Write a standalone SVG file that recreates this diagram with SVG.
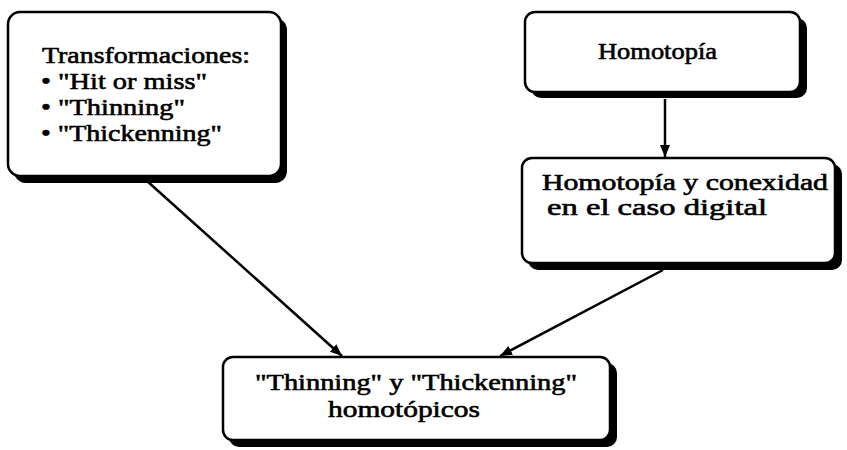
<svg xmlns="http://www.w3.org/2000/svg" width="847" height="450" viewBox="0 0 847 450">
<style>
.sh{fill:#000}
.bx{fill:#fff;stroke:#000;stroke-width:2.5}
.t{font-family:"Liberation Serif","Times New Roman",serif;font-size:23px;fill:#000;stroke:#000;stroke-width:0.6}
.c{stroke:#000;stroke-width:2.5;fill:none}
</style>
<defs>
<marker id="ah" viewBox="0 0 12 10" refX="12" refY="5" markerWidth="12" markerHeight="10" markerUnits="userSpaceOnUse" orient="auto">
<path d="M0,0 L12,5 L0,10 z" fill="#000"/>
</marker>
</defs>
<rect width="847" height="450" fill="#fff"/>
<g id="connectors">
<line class="c" x1="147" y1="181" x2="342" y2="356" marker-end="url(#ah)"/>
<line class="c" x1="663" y1="270" x2="500" y2="356" marker-end="url(#ah)"/>
<line class="c" x1="665" y1="99" x2="665" y2="157" stroke-width="1.8" marker-end="url(#ah)"/>
</g>
<g id="transformaciones">
<rect class="sh" x="14" y="18" width="273" height="165" rx="12"/>
<rect class="bx" x="8" y="12" width="273" height="164" rx="12"/>
<text class="t" x="42" y="63" textLength="208" lengthAdjust="spacingAndGlyphs">Transformaciones:</text>
<text class="t" x="41" y="89" textLength="166" lengthAdjust="spacingAndGlyphs">•  "Hit or miss"</text>
<text class="t" x="41" y="115" textLength="144" lengthAdjust="spacingAndGlyphs">•  "Thinning"</text>
<text class="t" x="41" y="141" textLength="181" lengthAdjust="spacingAndGlyphs">•  "Thickenning"</text>
</g>
<g id="homotopia">
<rect class="sh" x="531" y="18" width="276" height="80" rx="10"/>
<rect class="bx" x="525" y="12" width="275" height="80" rx="10"/>
<text class="t" x="598" y="59" textLength="119" lengthAdjust="spacingAndGlyphs">Homotopía</text>
</g>
<g id="homotopia-conexidad">
<rect class="sh" x="528" y="164" width="314" height="106" rx="10"/>
<rect class="bx" x="522" y="158" width="313" height="105" rx="10"/>
<text class="t" x="542" y="190" textLength="286" lengthAdjust="spacingAndGlyphs">Homotopía y conexidad</text>
<text class="t" x="547" y="215" textLength="220" lengthAdjust="spacingAndGlyphs">en el caso digital</text>
</g>
<g id="thinning-thickenning">
<rect class="sh" x="229" y="363" width="388" height="84" rx="10"/>
<rect class="bx" x="223" y="357" width="387" height="83" rx="10"/>
<text class="t" x="255" y="390" textLength="322" lengthAdjust="spacingAndGlyphs">"Thinning" y "Thickenning"</text>
<text class="t" x="328" y="417" textLength="152" lengthAdjust="spacingAndGlyphs">homotópicos</text>
</g>
</svg>
